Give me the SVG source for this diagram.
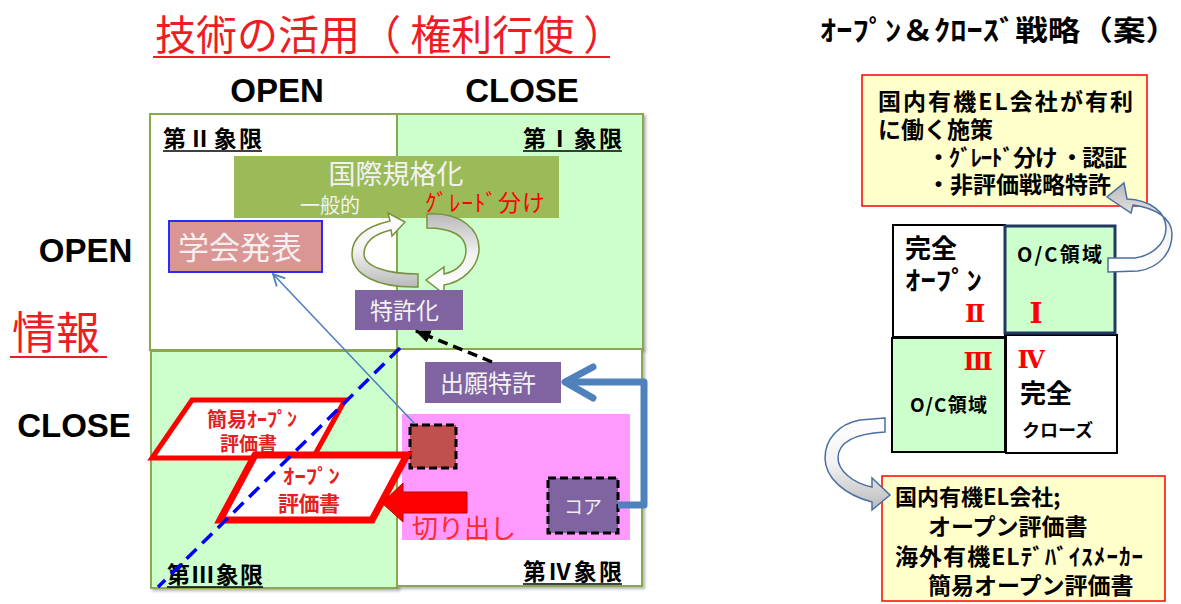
<svg xmlns="http://www.w3.org/2000/svg" width="1181" height="604" viewBox="0 0 1181 604">
<defs>
<style>
.jp{font-family:"Noto Sans CJK JP","Noto Sans",sans-serif}
.b{font-weight:700}
.lat{font-family:"Liberation Sans",Arial,sans-serif;font-weight:700;fill:#000}
.qb{stroke:#8aa84e;stroke-width:2}
.qg{fill:#ccffcc}
.qw{fill:#ffffff}
.pu{fill:#8064a2}
.wt{fill:#f2f2f2}
.rd{fill:#ff0000}
.yb{fill:#ffffcc;stroke:#ff0000;stroke-width:1.5}
.rn{font-family:"DejaVu Serif","Noto Sans CJK JP",serif;font-weight:700;fill:#ff0000}
.ul{stroke:#000;stroke-width:1.6}
.cyc{stroke:#77933c;stroke-width:1.5}
.carr{stroke:#4a6fa0;stroke-width:1.5}
.para{fill:#ffffff;stroke:#ff0000;stroke-linejoin:miter}
.ptx{fill:#e42020;font-weight:700}
.dash{stroke:#000;stroke-width:3;stroke-dasharray:8 4}
</style>
<linearGradient id="gL" x1="0" y1="0" x2="0" y2="1">
<stop offset="0" stop-color="#ffffff"/><stop offset="0.5" stop-color="#f2f2f2"/><stop offset="1" stop-color="#b9b9b9"/>
</linearGradient>
<linearGradient id="gR" x1="0" y1="0" x2="0" y2="1">
<stop offset="0" stop-color="#b9b9b9"/><stop offset="0.5" stop-color="#f2f2f2"/><stop offset="1" stop-color="#ffffff"/>
</linearGradient>
<filter id="sh" x="-5%" y="-5%" width="115%" height="115%">
<feDropShadow dx="2" dy="2" stdDeviation="1.5" flood-color="#000" flood-opacity="0.3"/>
</filter>
<marker id="openHead" viewBox="0 0 12 12" refX="11" refY="6" markerWidth="14" markerHeight="14" markerUnits="userSpaceOnUse" orient="auto">
<path d="M1,1 L11,6 L1,11" fill="none" stroke="#4f81bd" stroke-width="1.6"/>
</marker>
<marker id="blackHead" viewBox="0 0 12 10" refX="11" refY="5" markerWidth="16" markerHeight="13" markerUnits="userSpaceOnUse" orient="auto">
<path d="M0,0 L12,5 L0,10 Z" fill="#000"/>
</marker>
</defs>

<rect width="1181" height="604" fill="#ffffff"/>

<!-- titles -->
<g id="title-left">
<text class="jp" x="155" y="50" font-size="41" fill="#ee1c25">技術の活用（ 権利行使 ）</text>
<line x1="153" y1="57" x2="610" y2="57" stroke="#ee1c25" stroke-width="2"/>
</g>
<g id="axis-labels">
<text class="lat" x="277" y="102" font-size="33" text-anchor="middle">OPEN</text>
<text class="lat" x="522" y="102" font-size="33" text-anchor="middle">CLOSE</text>
<text class="lat" x="85.5" y="262" font-size="33" text-anchor="middle">OPEN</text>
<text class="lat" x="74" y="437" font-size="33" text-anchor="middle">CLOSE</text>
<text class="jp" x="12" y="349" font-size="44" fill="#ee1c25">情報</text>
<line x1="10" y1="357" x2="107" y2="357" stroke="#ee1c25" stroke-width="2"/>
</g>

<!-- quadrants -->
<g id="quadrant-2"><rect class="qb qw" x="150" y="114" width="247" height="236" filter="url(#sh)"/>
<text class="jp b" x="163" y="147" font-size="23" textLength="99">第Ⅱ象限</text><line class="ul" x1="163" y1="151" x2="262" y2="151"/></g>
<g id="quadrant-1"><rect class="qb qg" x="397" y="114" width="246" height="235" filter="url(#sh)"/>
<text class="jp b" x="523" y="147" font-size="23" textLength="99">第Ⅰ象限</text><line class="ul" x1="523" y1="151" x2="622" y2="151"/></g>
<g id="quadrant-3"><rect class="qb qg" x="151" y="351" width="246" height="237" filter="url(#sh)"/>
<text class="jp b" x="167" y="583" font-size="23" textLength="96">第Ⅲ象限</text><line class="ul" x1="167" y1="587" x2="263" y2="587"/></g>
<g id="quadrant-4"><rect class="qb qw" x="397" y="349" width="245" height="237" filter="url(#sh)"/>
<text class="jp b" x="523" y="580" font-size="23" textLength="99">第Ⅳ象限</text><line class="ul" x1="523" y1="584" x2="622" y2="584"/></g>

<!-- nodes -->
<g id="node-kokusai">
<rect x="234" y="156" width="325" height="62" fill="#9bbb59"/>
<text class="jp wt" x="396" y="184" font-size="27" text-anchor="middle">国際規格化</text>
<text class="jp wt" x="300" y="213" font-size="20">一般的</text>
<text class="jp" x="425" y="211" font-size="23" fill="#ff0000" textLength="120">ｸﾞﾚｰﾄﾞ分け</text>
</g>
<g id="node-gakkai">
<rect x="169" y="221" width="153" height="51" fill="#d99694" stroke="#2a2aff" stroke-width="2"/>
<text class="jp" x="178" y="259" font-size="31" fill="#f7efef">学会発表</text>
</g>
<g id="cycle">
<path class="cyc" fill="url(#gL)" d="M418 287 C378 288 352 275 352 254 C352 236 368 226 390 221 L388 213 L405 222 L392 236 L391 230 C373 234 364 243 364 254 C364 266 386 274 418 274 Z"/>
<path class="cyc" fill="url(#gR)" d="M427 214 C462 212 480 230 479 250 C478 268 462 282 444 285 L444 294 L426 280 L444 267 L444 274 C458 271 466 262 466 250 C466 236 452 228 427 228 Z"/>
</g>
<g id="node-tokkyoka">
<rect class="pu" x="355" y="290" width="108" height="40"/>
<text class="jp wt" x="370" y="319" font-size="23">特許化</text>
</g>
<g id="node-shutsugan">
<rect class="pu" x="425" y="362" width="136" height="41"/>
<text class="jp wt" x="440" y="392" font-size="24">出願特許</text>
</g>
<g id="node-area">
<rect x="402" y="414" width="228" height="126" fill="#ff99ff"/>
<text class="jp" x="412" y="538" font-size="26" fill="#ff2a2a">切り出し</text>
</g>
<g id="node-redsq">
<rect x="410" y="425" width="46" height="43" fill="#c0504d" class="dash"/>
</g>
<g id="node-core">
<rect class="pu dash" x="548" y="478" width="70" height="55"/>
<text class="jp" x="583" y="514" font-size="19" fill="#eeeeee" text-anchor="middle">コア</text>
</g>
<g id="node-kani">
<polygon class="para" stroke-width="5" points="192,400 345,400 313,458 152,458"/>
<text class="jp ptx" x="207" y="427" font-size="20" textLength="90" lengthAdjust="spacingAndGlyphs">簡易ｵｰﾌﾟﾝ</text>
<text class="jp ptx" x="220" y="451" font-size="19" textLength="57">評価書</text>
</g>
<g id="node-open">
<polygon class="para" stroke-width="7" points="255,455 407,455 372,520 220,520"/>
<text class="jp ptx" x="283" y="484" font-size="20" textLength="57" lengthAdjust="spacingAndGlyphs">ｵｰﾌﾟﾝ</text>
<text class="jp ptx" x="278" y="511" font-size="21" textLength="62">評価書</text>
</g>

<!-- connectors -->
<g id="connectors">
<line x1="400" y1="348" x2="158" y2="587" stroke="#0000ff" stroke-width="3.5" stroke-dasharray="14 8"/>
<line x1="415" y1="424" x2="273" y2="274" stroke="#4f81bd" stroke-width="1.6" marker-end="url(#openHead)"/>
<line x1="492" y1="362" x2="416" y2="331" stroke="#000" stroke-width="3.5" stroke-dasharray="10 6" marker-end="url(#blackHead)"/>
<polyline points="618,505 644,505 644,382 567,382" fill="none" stroke="#4f81bd" stroke-width="7" stroke-linejoin="round"/>
<polyline points="593,367 565,382 593,398" fill="none" stroke="#4f81bd" stroke-width="7" stroke-linecap="round" stroke-linejoin="round"/>
<polygon points="467,492 403,492 403,483 382,503 403,522 403,513 467,513" fill="#ff0000" stroke="#c00000" stroke-width="1"/>
</g>

<!-- right side -->
<g id="title-right">
<text class="jp b" x="820" y="41" font-size="28" textLength="358" lengthAdjust="spacingAndGlyphs">ｵｰﾌﾟﾝ＆ｸﾛｰｽﾞ戦略（案）</text>
</g>
<g id="box-top">
<rect class="yb" x="862" y="75" width="285" height="131"/>
<text class="jp b" x="878" y="110" font-size="23" textLength="255">国内有機EL会社が有利</text>
<text class="jp b" x="878" y="138" font-size="23">に働く施策</text>
<text class="jp b" x="927" y="166" font-size="23" textLength="200">・ｸﾞﾚｰﾄﾞ分け ・認証</text>
<text class="jp b" x="927" y="193" font-size="23">・非評価戦略特許</text>
</g>
<g id="grid-2">
<rect x="893" y="225" width="112" height="112" fill="#fff" stroke="#000" stroke-width="2"/>
<text class="jp b" x="905" y="258" font-size="26">完全</text>
<text class="jp b" x="905" y="290" font-size="26" textLength="77" lengthAdjust="spacingAndGlyphs">ｵｰﾌﾟﾝ</text>
<text class="rn" x="975" y="322" font-size="24" text-anchor="middle">Ⅱ</text>
</g>
<g id="grid-4">
<rect x="1006" y="335" width="111" height="118" fill="#fff" stroke="#000" stroke-width="2"/>
<text class="rn" x="1031" y="368" font-size="24" text-anchor="middle">Ⅳ</text>
<text class="jp b" x="1020" y="403" font-size="26">完全</text>
<text class="jp b" x="1022" y="437" font-size="18">クローズ</text>
</g>
<g id="grid-3">
<rect x="892" y="338" width="113" height="114" fill="#ccffcc" stroke="#000" stroke-width="2"/>
<text class="rn" x="978" y="370" font-size="24" text-anchor="middle">Ⅲ</text>
<text class="jp b" x="910" y="412" font-size="19" textLength="77">O/C領域</text>
</g>
<g id="grid-1">
<rect x="1005" y="226" width="110" height="107" fill="#ccffcc" stroke="#1f3864" stroke-width="3"/>
<text class="jp b" x="1017" y="262" font-size="20" textLength="85">O/C領域</text>
<text class="rn" x="1036" y="323" font-size="28" text-anchor="middle">Ⅰ</text>
</g>
<g id="box-bottom">
<rect class="yb" x="882" y="476" width="283" height="125"/>
<text class="jp b" x="895" y="505" font-size="22">国内有機EL会社;</text>
<text class="jp b" x="928" y="535" font-size="23">オープン評価書</text>
<text class="jp b" x="895" y="565" font-size="23" textLength="248">海外有機ELﾃﾞﾊﾞｲｽﾒｰｶｰ</text>
<text class="jp b" x="928" y="594" font-size="23">簡易オープン評価書</text>
</g>
<g id="right-arrows">
<path class="carr" fill="url(#gR)" d="M1108 272 L1138 271 C1160 268 1172 252 1172 234 C1172 218 1155 208 1133 205 L1131 213 L1107 197 L1124 183 L1127 199 C1150 200 1166 212 1166 228 C1166 245 1150 256 1135 258 L1108 258 Z"/>
<path class="carr" fill="url(#gL)" d="M885 418 L860 420 C838 424 825 440 825 458 C825 478 845 495 872 502 L872 510 L890 495 L872 478 L872 487 C852 483 838 470 838 458 C838 445 850 434 885 432 Z"/>
</g>
</svg>
